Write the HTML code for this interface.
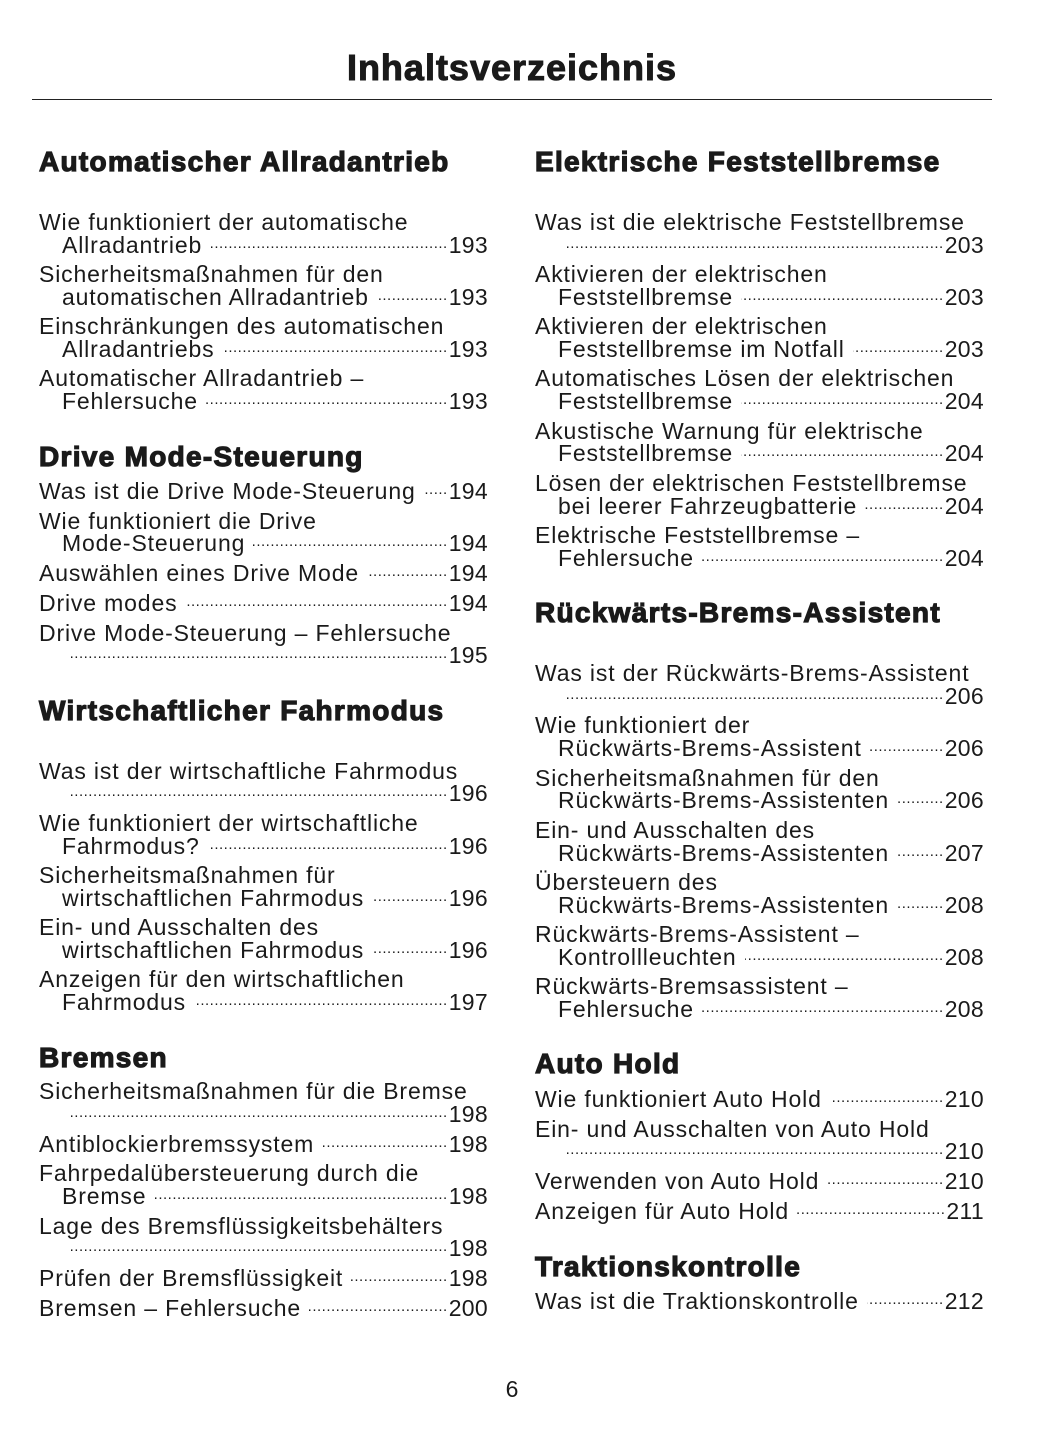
<!DOCTYPE html>
<html><head><meta charset="utf-8">
<style>
body{margin:0;background:#fff;}
#p{position:relative;width:1055px;height:1448px;background:#fff;color:#1a1a1a;font-family:"Liberation Sans",sans-serif;overflow:hidden;}
.t{position:absolute;left:0;width:1024px;text-align:center;top:46px;font-size:36px;letter-spacing:1px;font-weight:bold;-webkit-text-stroke:1px #1a1a1a;line-height:44px;}
.rule{position:absolute;left:32px;width:960px;top:99px;height:1px;background:#222;}
.h{position:absolute;font-size:28px;letter-spacing:1.3px;font-weight:bold;-webkit-text-stroke:1.2px #1a1a1a;line-height:30px;white-space:nowrap;}
.l{position:absolute;font-size:23px;letter-spacing:0.85px;line-height:26px;white-space:nowrap;display:flex;}
.L{left:39px;width:449px}.LI{left:62px;width:426px}
.R{left:535px;width:449px}.RI{left:558px;width:426px}
.d{flex:1;overflow:hidden;font-size:15px;letter-spacing:0.5px;text-align:right;direction:rtl;margin-left:8px;line-height:26px;align-self:flex-end;position:relative;top:-1px}
.n{margin-left:1px;letter-spacing:0.3px}
.pg{position:absolute;left:0;width:1024px;text-align:center;top:1376px;font-size:23px;line-height:26px;}
</style></head><body><div id="p">
<div class="t">Inhaltsverzeichnis</div>
<div class="rule"></div>

<div class="h" style="left:39px;top:147px">Automatischer Allradantrieb</div>
<div class="l L" style="top:209px">Wie funktioniert der automatische</div>
<div class="l LI" style="top:232px"><span>Allradantrieb</span><span class="d">..........................................................................................................</span><span class="n">193</span></div>
<div class="l L" style="top:261px">Sicherheitsmaßnahmen für den</div>
<div class="l LI" style="top:284px"><span>automatischen Allradantrieb</span><span class="d">..........................................................................................................</span><span class="n">193</span></div>
<div class="l L" style="top:313px">Einschränkungen des automatischen</div>
<div class="l LI" style="top:336px"><span>Allradantriebs</span><span class="d">..........................................................................................................</span><span class="n">193</span></div>
<div class="l L" style="top:365px">Automatischer Allradantrieb –</div>
<div class="l LI" style="top:388px"><span>Fehlersuche</span><span class="d">..........................................................................................................</span><span class="n">193</span></div>

<div class="h" style="left:39px;top:442px">Drive Mode-Steuerung</div>
<div class="l L" style="top:478px"><span>Was ist die Drive Mode-Steuerung</span><span class="d">..........................................................................................................</span><span class="n">194</span></div>
<div class="l L" style="top:508px">Wie funktioniert die Drive</div>
<div class="l LI" style="top:530px"><span>Mode-Steuerung</span><span class="d">..........................................................................................................</span><span class="n">194</span></div>
<div class="l L" style="top:560px"><span>Auswählen eines Drive Mode</span><span class="d">..........................................................................................................</span><span class="n">194</span></div>
<div class="l L" style="top:590px"><span>Drive modes</span><span class="d">..........................................................................................................</span><span class="n">194</span></div>
<div class="l L" style="top:620px">Drive Mode-Steuerung – Fehlersuche</div>
<div class="l LI" style="top:642px"><span></span><span class="d">..........................................................................................................</span><span class="n">195</span></div>

<div class="h" style="left:39px;top:696px">Wirtschaftlicher Fahrmodus</div>
<div class="l L" style="top:758px">Was ist der wirtschaftliche Fahrmodus</div>
<div class="l LI" style="top:780px"><span></span><span class="d">..........................................................................................................</span><span class="n">196</span></div>
<div class="l L" style="top:810px">Wie funktioniert der wirtschaftliche</div>
<div class="l LI" style="top:833px"><span>Fahrmodus?</span><span class="d">..........................................................................................................</span><span class="n">196</span></div>
<div class="l L" style="top:862px">Sicherheitsmaßnahmen für</div>
<div class="l LI" style="top:885px"><span>wirtschaftlichen Fahrmodus</span><span class="d">..........................................................................................................</span><span class="n">196</span></div>
<div class="l L" style="top:914px">Ein- und Ausschalten des</div>
<div class="l LI" style="top:937px"><span>wirtschaftlichen Fahrmodus</span><span class="d">..........................................................................................................</span><span class="n">196</span></div>
<div class="l L" style="top:966px">Anzeigen für den wirtschaftlichen</div>
<div class="l LI" style="top:989px"><span>Fahrmodus</span><span class="d">..........................................................................................................</span><span class="n">197</span></div>

<div class="h" style="left:39px;top:1043px">Bremsen</div>
<div class="l L" style="top:1078px">Sicherheitsmaßnahmen für die Bremse</div>
<div class="l LI" style="top:1101px"><span></span><span class="d">..........................................................................................................</span><span class="n">198</span></div>
<div class="l L" style="top:1131px"><span>Antiblockierbremssystem</span><span class="d">..........................................................................................................</span><span class="n">198</span></div>
<div class="l L" style="top:1160px">Fahrpedalübersteuerung durch die</div>
<div class="l LI" style="top:1183px"><span>Bremse</span><span class="d">..........................................................................................................</span><span class="n">198</span></div>
<div class="l L" style="top:1213px">Lage des Bremsflüssigkeitsbehälters</div>
<div class="l LI" style="top:1235px"><span></span><span class="d">..........................................................................................................</span><span class="n">198</span></div>
<div class="l L" style="top:1265px"><span>Prüfen der Bremsflüssigkeit</span><span class="d">..........................................................................................................</span><span class="n">198</span></div>
<div class="l L" style="top:1295px"><span>Bremsen – Fehlersuche</span><span class="d">..........................................................................................................</span><span class="n">200</span></div>

<div class="h" style="left:535px;top:147px">Elektrische Feststellbremse</div>
<div class="l R" style="top:209px">Was ist die elektrische Feststellbremse</div>
<div class="l RI" style="top:232px"><span></span><span class="d">..........................................................................................................</span><span class="n">203</span></div>
<div class="l R" style="top:261px">Aktivieren der elektrischen</div>
<div class="l RI" style="top:284px"><span>Feststellbremse</span><span class="d">..........................................................................................................</span><span class="n">203</span></div>
<div class="l R" style="top:313px">Aktivieren der elektrischen</div>
<div class="l RI" style="top:336px"><span>Feststellbremse im Notfall</span><span class="d">..........................................................................................................</span><span class="n">203</span></div>
<div class="l R" style="top:365px">Automatisches Lösen der elektrischen</div>
<div class="l RI" style="top:388px"><span>Feststellbremse</span><span class="d">..........................................................................................................</span><span class="n">204</span></div>
<div class="l R" style="top:418px">Akustische Warnung für elektrische</div>
<div class="l RI" style="top:440px"><span>Feststellbremse</span><span class="d">..........................................................................................................</span><span class="n">204</span></div>
<div class="l R" style="top:470px">Lösen der elektrischen Feststellbremse</div>
<div class="l RI" style="top:493px"><span>bei leerer Fahrzeugbatterie</span><span class="d">..........................................................................................................</span><span class="n">204</span></div>
<div class="l R" style="top:522px">Elektrische Feststellbremse –</div>
<div class="l RI" style="top:545px"><span>Fehlersuche</span><span class="d">..........................................................................................................</span><span class="n">204</span></div>

<div class="h" style="left:535px;top:598px">Rückwärts-Brems-Assistent</div>
<div class="l R" style="top:660px">Was ist der Rückwärts-Brems-Assistent</div>
<div class="l RI" style="top:683px"><span></span><span class="d">..........................................................................................................</span><span class="n">206</span></div>
<div class="l R" style="top:712px">Wie funktioniert der</div>
<div class="l RI" style="top:735px"><span>Rückwärts-Brems-Assistent</span><span class="d">..........................................................................................................</span><span class="n">206</span></div>
<div class="l R" style="top:765px">Sicherheitsmaßnahmen für den</div>
<div class="l RI" style="top:787px"><span>Rückwärts-Brems-Assistenten</span><span class="d">..........................................................................................................</span><span class="n">206</span></div>
<div class="l R" style="top:817px">Ein- und Ausschalten des</div>
<div class="l RI" style="top:840px"><span>Rückwärts-Brems-Assistenten</span><span class="d">..........................................................................................................</span><span class="n">207</span></div>
<div class="l R" style="top:869px">Übersteuern des</div>
<div class="l RI" style="top:892px"><span>Rückwärts-Brems-Assistenten</span><span class="d">..........................................................................................................</span><span class="n">208</span></div>
<div class="l R" style="top:921px">Rückwärts-Brems-Assistent –</div>
<div class="l RI" style="top:944px"><span>Kontrollleuchten</span><span class="d">..........................................................................................................</span><span class="n">208</span></div>
<div class="l R" style="top:973px">Rückwärts-Bremsassistent –</div>
<div class="l RI" style="top:996px"><span>Fehlersuche</span><span class="d">..........................................................................................................</span><span class="n">208</span></div>

<div class="h" style="left:535px;top:1049px">Auto Hold</div>
<div class="l R" style="top:1086px"><span>Wie funktioniert Auto Hold</span><span class="d">..........................................................................................................</span><span class="n">210</span></div>
<div class="l R" style="top:1116px">Ein- und Ausschalten von Auto Hold</div>
<div class="l RI" style="top:1138px"><span></span><span class="d">..........................................................................................................</span><span class="n">210</span></div>
<div class="l R" style="top:1168px"><span>Verwenden von Auto Hold</span><span class="d">..........................................................................................................</span><span class="n">210</span></div>
<div class="l R" style="top:1198px"><span>Anzeigen für Auto Hold</span><span class="d">..........................................................................................................</span><span class="n">211</span></div>

<div class="h" style="left:535px;top:1252px">Traktionskontrolle</div>
<div class="l R" style="top:1288px"><span>Was ist die Traktionskontrolle</span><span class="d">..........................................................................................................</span><span class="n">212</span></div>

<div class="pg">6</div>
</div></body></html>
